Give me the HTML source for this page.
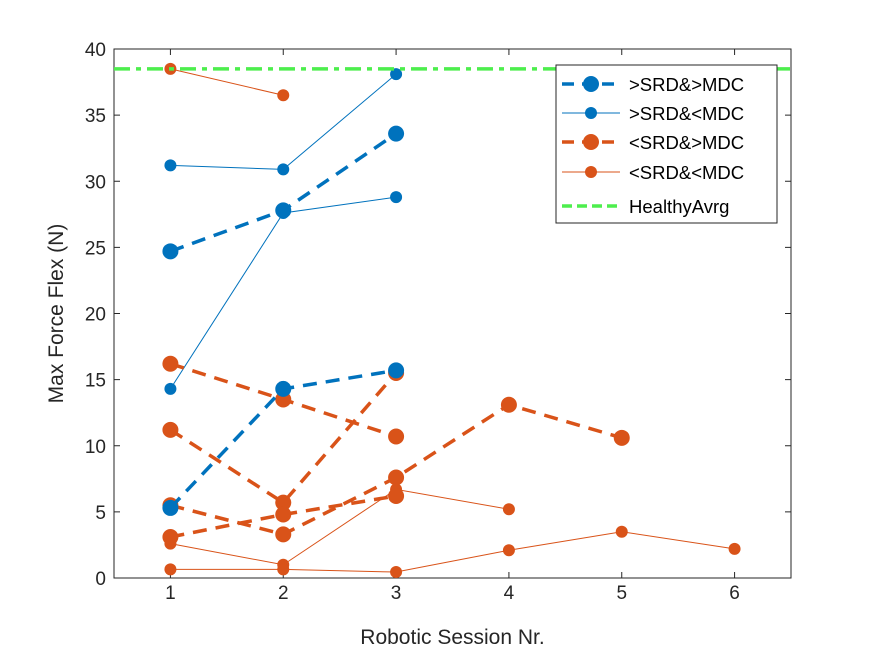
<!DOCTYPE html>
<html><head><meta charset="utf-8"><style>
body{margin:0;background:#fff;}
svg{display:block;font-family:"Liberation Sans",sans-serif;}
</style></head><body>
<svg id="chart" width="875" height="656" viewBox="0 0 875 656"></svg>
<script>
const xTicks=[1,2,3,4,5,6];
const yTicks=[0,5,10,15,20,25,30,35,40];
const healthyAvg=38.5;
// >SRD&>MDC
const blueDashedX=[[1,2,3],[1,2,3]];
const blueDashedY=[[24.7,27.8,33.6],[5.3,14.3,15.7]];
// >SRD&<MDC
const blueThinX=[[1,2,3],[1,2,3]];
const blueThinY=[[31.2,30.9,38.1],[14.3,27.6,28.8]];
// <SRD&>MDC
const orangeDashedX=[[1,2,3],[1,2,3],[1,2,3,4,5],[1,2,3]];
const orangeDashedY=[[16.2,13.5,10.7],[11.2,5.7,15.5],[5.5,3.3,7.6,13.1,10.6],[3.1,4.8,6.2]];
// <SRD&<MDC
const orangeThinX=[[1,2],[1,2,3,4],[1,2,3,4,5,6]];
const orangeThinY=[[38.5,36.5],[2.6,1.0,6.7,5.2],[0.65,0.65,0.45,2.1,3.5,2.2]];

const L=114,R=791,T=49,B=578;
const sx=v=>L+(v-0.5)/6*(R-L);
const sy=v=>B-v/40*(B-T);
const svg=document.getElementById('chart');
const NS='http://www.w3.org/2000/svg';
function mk(tag,attrs,parent){const e=document.createElementNS(NS,tag);for(const k in attrs)e.setAttribute(k,attrs[k]);(parent||svg).appendChild(e);return e;}

const axes=mk('rect',{x:L,y:T,width:R-L,height:B-T,fill:'#fff',stroke:'#262626','stroke-width':1});



xTicks.forEach(t=>{
  mk('line',{x1:sx(t),x2:sx(t),y1:B,y2:B-6,stroke:'#262626'});
  mk('line',{x1:sx(t),x2:sx(t),y1:T,y2:T+6,stroke:'#262626'});
  const tx=mk('text',{x:sx(t),y:B+21,'text-anchor':'middle','font-size':19,fill:'#262626'});
  tx.textContent=t;
  
  
});
yTicks.forEach(t=>{
  mk('line',{x1:L,x2:L+6,y1:sy(t),y2:sy(t),stroke:'#262626'});
  mk('line',{x1:R,x2:R-6,y1:sy(t),y2:sy(t),stroke:'#262626'});
  const tx=mk('text',{x:L-8,y:sy(t)+7,'text-anchor':'end','font-size':19,fill:'#262626'});
  tx.textContent=t;
  
  
});
const xl=mk('text',{x:(L+R)/2,y:644,'text-anchor':'middle','font-size':21,fill:'#262626'});
xl.textContent='Robotic Session Nr.';


const yl=mk('text',{x:0,y:0,'text-anchor':'middle','font-size':21,fill:'#262626',transform:`translate(63,${(T+B)/2}) rotate(-90)`});
yl.textContent='Max Force Flex (N)';



function series(xs,ys,color,dashed,name){
  xs.forEach((xa,i)=>{
    const g=mk('g',{});
    
    
    const pts=xa.map((x,j)=>sx(x)+','+sy(ys[i][j])).join(' ');
    mk('polyline',{points:pts,fill:'none',stroke:color,'stroke-width':dashed?3.5:1,'stroke-dasharray':dashed?'14,9':'none'},g);
    xa.forEach((x,j)=>{
      const c=mk('circle',{cx:sx(x),cy:sy(ys[i][j]),r:dashed?8:6,fill:color},g);
      
      
    });
  });
}
series(blueThinX,blueThinY,'#0072BD',false,'srd-gt-mdc-lt-line');
series(orangeThinX,orangeThinY,'#D95319',false,'srd-lt-mdc-lt-line');
series(orangeDashedX,orangeDashedY,'#D95319',true,'srd-lt-mdc-gt-line');
series(blueDashedX,blueDashedY,'#0072BD',true,'srd-gt-mdc-gt-line');
const h=mk('line',{x1:L,x2:R,y1:sy(healthyAvg),y2:sy(healthyAvg),stroke:'#4DEE4D','stroke-width':3.5,'stroke-dasharray':'16,6,5,6'});



// legend
const lg=mk('g',{});


mk('rect',{x:556,y:65,width:221,height:158,fill:'#fff',stroke:'#262626','stroke-width':1},lg);
const entries=[['>SRD&>MDC','#0072BD',true],['>SRD&<MDC','#0072BD',false],['<SRD&>MDC','#D95319',true],['<SRD&<MDC','#D95319',false],['HealthyAvrg','#4DEE4D','h']];
entries.forEach((e,i)=>{
  const y=[84,113,142,172,206][i];
  const g=mk('g',{},lg);
  
  
  if(e[2]==='h'){
    mk('line',{x1:562,x2:620,y1:y,y2:y,stroke:e[1],'stroke-width':3.5,'stroke-dasharray':'10,5'},g);
  }else{
    mk('line',{x1:562,x2:620,y1:y,y2:y,stroke:e[1],'stroke-width':e[2]?3.5:1,'stroke-dasharray':e[2]?'12,8':'none'},g);
    mk('circle',{cx:591,cy:y,r:e[2]?8:6,fill:e[1]},g);
  }
  const t=mk('text',{x:629,y:y+7,'font-size':18.5,fill:'#000'},g);
  t.textContent=e[0];
});
</script>
</body></html>
